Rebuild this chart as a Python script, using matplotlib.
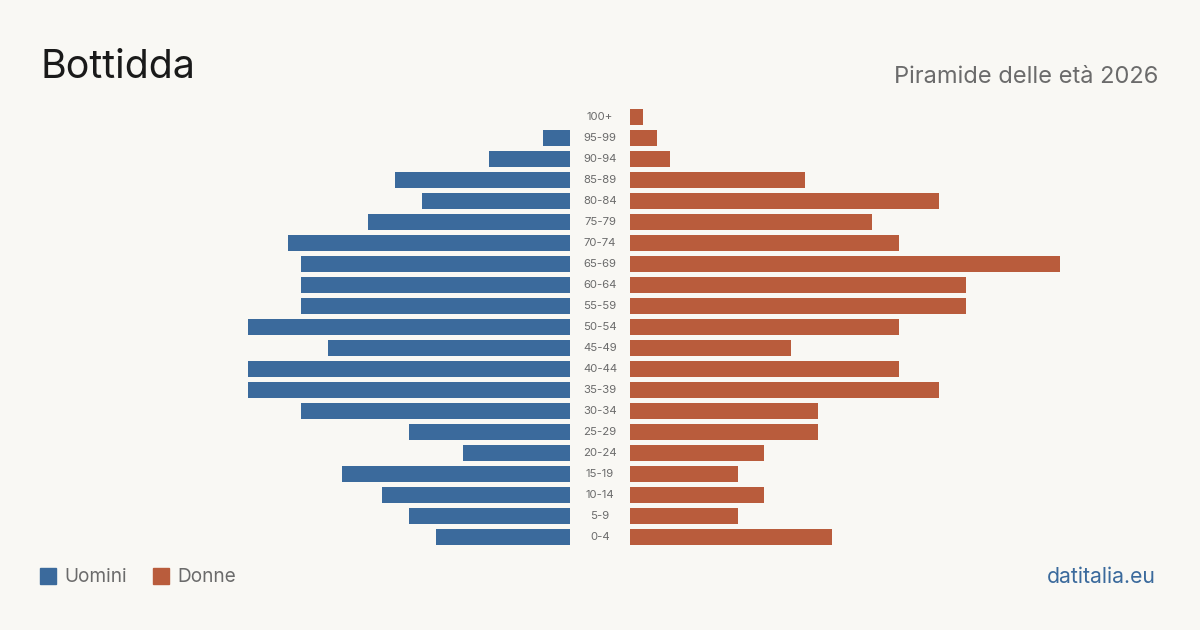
import matplotlib
matplotlib.use("Agg")
import matplotlib.pyplot as plt
from matplotlib.patches import Rectangle

plt.rcParams['font.family'] = ['Inter', 'DejaVu Sans']

age_groups = ["0-4", "5-9", "10-14", "15-19", "20-24", "25-29", "30-34", "35-39",
              "40-44", "45-49", "50-54", "55-59", "60-64", "65-69", "70-74", "75-79",
              "80-84", "85-89", "90-94", "95-99", "100+"]
men = [10, 12, 14, 17, 8, 12, 20, 24, 24, 18, 24, 20, 20, 20, 21, 15, 11, 13, 6, 2, 0]
women = [15, 8, 10, 8, 10, 14, 14, 23, 20, 12, 20, 25, 25, 32, 20, 18, 23, 13, 3, 2, 1]

BG = "#f9f8f4"
BLUE = "#3b6a9c"
RED = "#b95c3c"
GREY = "#6b6b6b"

fig = plt.figure(figsize=(12, 6.3), dpi=100, facecolor=BG)
W = 1200.0
H = 630.0
xmax = 32.0
half_w = 430
bottom = (H - 547.5) / H
height = 441 / H

axL = fig.add_axes([(570 - half_w) / W, bottom, half_w / W, height])
axR = fig.add_axes([630 / W, bottom, half_w / W, height])
ypos = list(range(len(age_groups)))
axL.barh(ypos, men, height=0.8, color=BLUE)
axR.barh(ypos, women, height=0.8, color=RED)
axL.set_xlim(xmax, 0)
axR.set_xlim(0, xmax)
for ax in (axL, axR):
    ax.set_ylim(-0.5, len(age_groups) - 0.5)
    ax.axis('off')
    ax.set_facecolor(BG)

for i, lab in enumerate(age_groups):
    y = bottom + height * (i + 0.5) / len(age_groups)
    fig.text(600 / W, y, lab, ha='center', va='center', fontsize=8.2, color=GREY)

fig.text(40.5 / W, 1 - 67 / H, "Bottidda", fontsize=28.3, color="#1a1a1a", va='center', ha='left')
fig.text(1158 / W, 1 - 77 / H, "Piramide delle età 2026", fontsize=17, color=GREY, va='center', ha='right')

fig.patches.append(Rectangle((40 / W, 1 - 584 / H), 16 / W, 16 / H, transform=fig.transFigure, color=BLUE))
fig.text(64 / W, 1 - 577 / H, "Uomini", fontsize=13.7, color=GREY, va='center', ha='left')
fig.patches.append(Rectangle((153 / W, 1 - 584 / H), 16 / W, 16 / H, transform=fig.transFigure, color=RED))
fig.text(177 / W, 1 - 577 / H, "Donne", fontsize=13.7, color=GREY, va='center', ha='left')
fig.text(1156 / W, 1 - 577 / H, "datitalia.eu", fontsize=15.3, color=BLUE, va='center', ha='right')

fig.savefig("out.png", dpi=100, facecolor=BG)
